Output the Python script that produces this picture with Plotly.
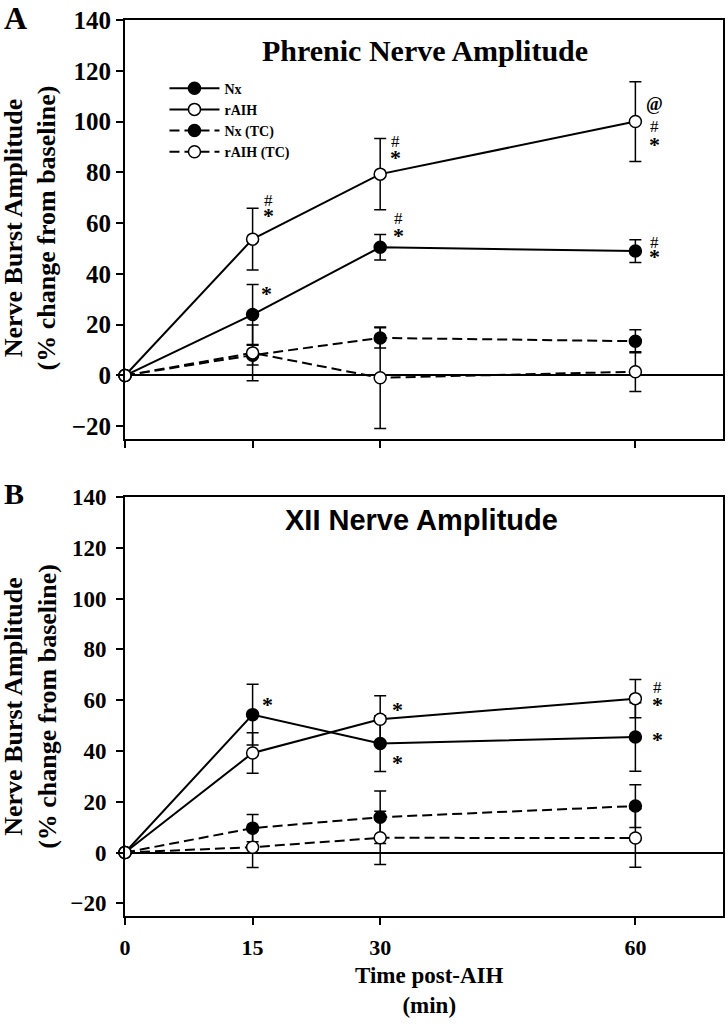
import plotly.graph_objects as go

# ---------------- data ----------------
times = [0, 15, 30, 60]
series_names = ["Nx", "rAIH", "Nx (TC)", "rAIH (TC)"]

# Panel A - Phrenic nerve amplitude
nx_A = [0, 24.0, 50.5, 49.0]
nx_A_err = [0, 11.8, 5.0, 4.5]
raih_A = [0, 53.7, 79.3, 100.0]
raih_A_err = [0, 12.2, 14.0, 15.7]
nxtc_A = [0, 8.0, 14.8, 13.5]
nxtc_A_err = [0, 3.9, 4.0, 4.5]
raihtc_A = [0, 8.9, -0.9, 1.5]
raihtc_A_err = [0, 11.0, 20.0, 7.8]

# Panel B - XII nerve amplitude
nx_B = [0, 54.3, 42.9, 45.5]
nx_B_err = [0, 12.0, 11.0, 13.5]
raih_B = [0, 39.2, 52.5, 60.6]
raih_B_err = [0, 8.0, 9.2, 7.5]
nxtc_B = [0, 9.6, 13.9, 18.3]
nxtc_B_err = [0, 5.4, 10.3, 8.4]
raihtc_B = [0, 2.1, 5.8, 5.7]
raihtc_B_err = [0, 8.0, 10.5, 11.5]

# significance markers: (x, y, text)
marks_A = [(16.9, 69.0, "#"), (16.9, 63.9, "*"), (16.6, 32.9, "*"),
           (31.8, 92.2, "#"), (31.8, 86.7, "*"),
           (32.2, 62.0, "#"), (32.2, 56.1, "*"),
           (62.3, 107.0, "@"), (62.3, 98.0, "#"), (62.3, 91.8, "*"),
           (62.3, 52.2, "#"), (62.3, 47.5, "*")]
marks_B = [(16.8, 59.2, "*"), (32.0, 57.2, "*"), (32.0, 36.3, "*"),
           (62.6, 65.1, "#"), (62.6, 59.2, "*"), (62.6, 45.4, "*")]

y_ticks = [-20, 0, 20, 40, 60, 80, 100, 120, 140]

SERIF = "Liberation Serif, Times New Roman, serif"
SANS = "Liberation Sans, Arial, sans-serif"

fig = go.Figure()

styles = [
    dict(fill="black", dash="solid"),
    dict(fill="white", dash="solid"),
    dict(fill="black", dash="10px,5px"),
    dict(fill="white", dash="10px,5px"),
]

panelA = [(nx_A, nx_A_err), (raih_A, raih_A_err), (nxtc_A, nxtc_A_err), (raihtc_A, raihtc_A_err)]
panelB = [(nx_B, nx_B_err), (raih_B, raih_B_err), (nxtc_B, nxtc_B_err), (raihtc_B, raihtc_B_err)]

for panel, (xa, ya, show) in [(panelA, ("x", "y", True)), (panelB, ("x2", "y2", False))]:
    for (vals, errs), name, st in zip(panel, series_names, styles):
        fig.add_trace(go.Scatter(
            x=times, y=vals, name=name, xaxis=xa, yaxis=ya,
            mode="lines+markers", showlegend=show, cliponaxis=False,
            line=dict(color="black", width=2, dash=st["dash"]),
            marker=dict(symbol="circle", size=12, color=st["fill"],
                        line=dict(color="black", width=1.5)),
            error_y=dict(type="data", array=errs, visible=True,
                         color="black", thickness=1.5, width=6),
        ))

annotations = []
for marks, xr, yr in [(marks_A, "x", "y"), (marks_B, "x2", "y2")]:
    for (mx, my, t) in marks:
        if t == "*":
            f = dict(family=SERIF, size=22, color="black", weight="bold")
            ys = -2
        elif t == "#":
            f = dict(family=SERIF, size=17, color="black")
            ys = 0
        else:
            f = dict(family=SERIF, size=18, color="black", weight="bold")
            ys = 0
        annotations.append(dict(x=mx, y=my, xref=xr, yref=yr, text=t, showarrow=False,
                                font=f, xanchor="center", yanchor="middle", yshift=ys))

# panel titles
annotations.append(dict(x=0.502, y=0.928, xref="x domain", yref="y domain",
                        text="<b>Phrenic Nerve Amplitude</b>", showarrow=False,
                        font=dict(family=SERIF, size=30, color="black"),
                        xanchor="center", yanchor="middle"))
annotations.append(dict(x=0.495, y=0.945, xref="x2 domain", yref="y2 domain",
                        text="<b>XII Nerve Amplitude</b>", showarrow=False,
                        font=dict(family=SANS, size=29, color="black"),
                        xanchor="center", yanchor="middle"))
# y titles
for yc in [0.768, 0.234]:
    annotations.append(dict(x=-0.158, y=yc, xref="paper", yref="paper",
                            text="<b>Nerve Burst Amplitude<br>(% change from baseline)</b>",
                            showarrow=False, textangle=-90,
                            font=dict(family=SERIF, size=26, color="black"),
                            xanchor="center", yanchor="middle"))
# x title
annotations.append(dict(x=0.51, y=-0.0826, xref="paper", yref="paper",
                        text="<b>Time post-AIH<br>(min)</b>", showarrow=False,
                        font=dict(family=SERIF, size=23, color="black"),
                        xanchor="center", yanchor="middle"))
# panel letters
annotations.append(dict(x=-0.183, y=1.002, xref="paper", yref="paper", text="<b>A</b>",
                        showarrow=False, font=dict(family=SERIF, size=32, color="black"),
                        xanchor="center", yanchor="middle"))
annotations.append(dict(x=-0.185, y=0.472, xref="paper", yref="paper", text="<b>B</b>",
                        showarrow=False, font=dict(family=SERIF, size=30, color="black"),
                        xanchor="center", yanchor="middle"))

common_x = dict(range=[0, 70.3], tickvals=times, ticks="outside", ticklen=7, tickwidth=2,
                tickcolor="black", showline=True, linecolor="black", linewidth=2,
                mirror=True, showgrid=False, zeroline=False)
common_y = dict(range=[-25, 140], tickvals=y_ticks, ticks="outside", ticklen=7, tickwidth=2,
                tickcolor="black", showline=True, linecolor="black", linewidth=2,
                mirror=True, showgrid=False, zeroline=True, zerolinecolor="black",
                zerolinewidth=1.5)

fig.update_layout(
    width=728, height=1024,
    margin=dict(l=125, r=3, t=20, b=108),
    paper_bgcolor="white", plot_bgcolor="white",
    xaxis=dict(**common_x, anchor="y", showticklabels=False),
    yaxis=dict(**common_y, anchor="x", domain=[0.5324, 1.0],
               tickfont=dict(family=SERIF, size=25, color="black", weight="bold")),
    xaxis2=dict(**common_x, anchor="y2", showticklabels=True, ticklabelstandoff=4,
                tickfont=dict(family=SERIF, size=22, color="black", weight="bold")),
    yaxis2=dict(**common_y, anchor="x2", domain=[0.0, 0.4676], ticklabelstandoff=5,
                tickfont=dict(family=SERIF, size=23, color="black", weight="bold")),
    legend=dict(x=0.066, y=0.9413, xanchor="left", yanchor="top", bgcolor="rgba(0,0,0,0)",
                font=dict(family=SERIF, size=14, color="black", weight="bold"),
                itemwidth=50, tracegroupgap=0),
    annotations=annotations,
    showlegend=True,
)

fig.write_html("out.html", config={"displayModeBar": False},
               post_script="document.body.style.margin='0px';")
